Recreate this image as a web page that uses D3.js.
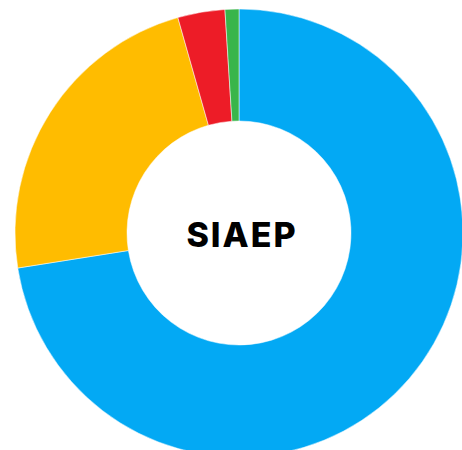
<!DOCTYPE html>
<html>
<head>
<meta charset="utf-8">
<script src="https://cdn.jsdelivr.net/npm/d3@7"></script>
<style>
  body { margin: 0; background: #fff; }
</style>
</head>
<body>
<svg id="chart" width="462" height="450"></svg>
<script>
var labels = ["Bleu", "Jaune", "Rouge", "Vert"];
var values = [72.5, 23.1, 3.4, 1.0];
var colors = ["#03A9F4", "#FFBC00", "#ED1C27", "#39B54A"];
var title = "SIAEP";

var svg = d3.select("#chart");
var cx = 239, cy = 233;
var outer = 224, inner = 112;

var pie = d3.pie().value(function(d) { return d; }).sort(null);
var arc = d3.arc().innerRadius(inner).outerRadius(outer);
var color = d3.scaleOrdinal().domain(labels).range(colors);

var g = svg.append("g").attr("transform", "translate(" + cx + "," + cy + ")");

g.selectAll("path")
    .data(pie(values))
    .enter().append("path")
    .attr("d", arc)
    .attr("fill", function(d, i) { return color(labels[i]); })
    .attr("stroke", "#fff")
    .attr("stroke-width", 0.5);

// centre label
g.append("text")
    .attr("x", 3)
    .attr("y", 14)
    .attr("text-anchor", "middle")
    .style("font-family", "Inter, sans-serif")
    .style("font-weight", 800)
    .style("font-size", "34px")
    .style("letter-spacing", "2px")
    .style("fill", "#000")
    .text(title);
</script>
</body>
</html>
